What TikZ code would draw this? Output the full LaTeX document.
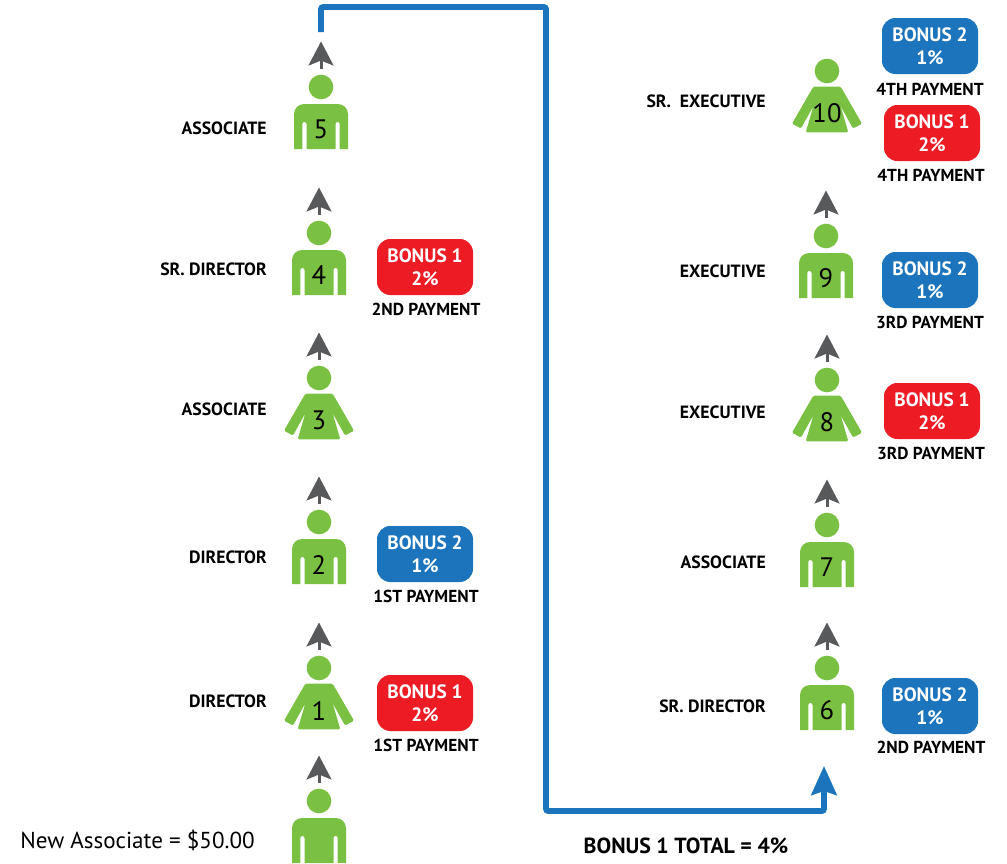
\documentclass[tikz,border=0pt]{standalone}
\usepackage{fontspec}
\setmainfont{PT Sans}
\usetikzlibrary{arrows.meta, positioning}
\definecolor{manGreen}{RGB}{122, 193, 67}
\definecolor{bonusBlue}{RGB}{28, 117, 188}
\definecolor{bonusRed}{RGB}{237, 28, 36}
\definecolor{arrowGray}{RGB}{88, 89, 91}
\tikzset{
  headdot/.style={circle, fill=manGreen, minimum size=18.5pt, inner sep=0pt},
  numlabel/.style={font=\fontsize{20}{20}\selectfont, inner sep=0pt},
  rolelabel/.style={font=\fontsize{13.3}{15}\selectfont\bfseries, anchor=east, inner sep=0pt},
  paylabel/.style={font=\fontsize{13}{15}\selectfont\bfseries, inner sep=0pt},
  bonusbox/.style={rounded corners=10pt, minimum width=72pt, minimum height=42pt, inner sep=0pt, align=center, text=white, font=\fontsize{14.5}{17}\selectfont\bfseries},
  bonusone/.style={bonusbox, fill=bonusRed},
  bonustwo/.style={bonusbox, fill=bonusBlue},
  grayarrow/.style={-{Stealth[length=18pt, width=18.75pt, inset=3.75pt]}, line width=2.25pt, arrowGray, shorten <=2pt},
  bluepath/.style={-{Stealth[length=21.75pt, width=19pt, inset=3pt]}, line width=4.2pt, bonusBlue, rounded corners=1.5pt},
  pics/manfig/.style={code={
    \fill[manGreen] (-27,62) -- (-27,27) arc[start angle=180, end angle=270, radius=10] -- (17,17) arc[start angle=270, end angle=360, radius=10] -- (27,62)
      -- (18.7,62) -- (18.7,37) arc[start angle=0, end angle=-180, radius=2.1] -- (14.5,62)
      -- (-14.5,62) -- (-14.5,37) arc[start angle=0, end angle=-180, radius=2.1] -- (-18.7,62) -- cycle;
    \node[headdot] (head) at (0,0) {};
    \node[numlabel] (num) at (0,42.5) {#1};
    \coordinate (tip) at (0,-45.5);
  }},
  pics/womanfig/.style={code={
    \fill[manGreen, rounded corners=1pt] (-13.7,15.7) -- (-35,52.7) -- (-26,57.5) -- (-13.7,35.3) -- (-21.3,61.3) -- (21.3,61.3) -- (13.7,35.3) -- (26,57.5) -- (35,52.7) -- (13.7,15.7) -- cycle;
    \node[headdot] (head) at (0,0) {};
    \node[numlabel] (num) at (0,42.5) {#1};
    \coordinate (tip) at (0,-45.5);
  }},
}

\begin{document}
\begin{tikzpicture}[x=0.75pt, y=-0.75pt]
  \useasboundingbox (0,0) rectangle (1007,864);

  % Left column
  \pic (pnew) at (319,801) {manfig={}};
  \pic (p1) at (319,668) {womanfig=1};
  \pic (p2) at (319,522) {manfig=2};
  \pic (p3) at (319,378) {womanfig=3};
  \pic (p4) at (319,233) {manfig=4};
  \pic (p5) at (321,87) {manfig=5};

  \draw[grayarrow] (pnewhead) ++(0,-15) -- (pnewtip);
  \draw[grayarrow] (p1head) ++(0,-15) -- (p1tip);
  \draw[grayarrow] (p2head) ++(0,-15) -- (p2tip);
  \draw[grayarrow] (p3head) ++(0,-15) -- (p3tip);
  \draw[grayarrow] (p4head) ++(0,-15) -- (p4tip);
  \draw[grayarrow] (p5head) ++(0,-15) -- (p5tip);

  % Right column
  \pic (p6) at (827,668) {manfig=6};
  \pic (p7) at (827,525) {manfig=7};
  \pic (p8) at (827,380) {womanfig=8};
  \pic (p9) at (826,236) {manfig=9};
  \pic (p10) at (827,71) {womanfig=10};

  \draw[grayarrow] (p6head) ++(0,-15) -- (p6tip);
  \draw[grayarrow] (p7head) ++(0,-15) -- (p7tip);
  \draw[grayarrow] (p8head) ++(0,-15) -- (p8tip);
  \draw[grayarrow] (p9head) ++(0,-15) -- (p9tip);

  % Role labels
  \node[rolelabel] (role5) at (267,128) {ASSOCIATE};
  \node[rolelabel] (role4) at (267,269) {SR. DIRECTOR};
  \node[rolelabel] (role3) at (267,409) {ASSOCIATE};
  \node[rolelabel] (role2) at (267,557) {DIRECTOR};
  \node[rolelabel] (role1) at (267,701) {DIRECTOR};
  \node[rolelabel] (role10) at (766,101) {SR.\ \ EXECUTIVE};
  \node[rolelabel] (role9) at (766,271) {EXECUTIVE};
  \node[rolelabel] (role8) at (766,412) {EXECUTIVE};
  \node[rolelabel] (role7) at (766,562) {ASSOCIATE};
  \node[rolelabel] (role6) at (766,706) {SR. DIRECTOR};

  % Bonus boxes, left
  \node[bonusone] (bonusA) at (425,267) {BONUS 1\\2\%};
  \node[paylabel] (payA) at (426,309) {2ND PAYMENT};
  \node[bonustwo] (bonusB) at (425,554) {BONUS 2\\1\%};
  \node[paylabel] (payB) at (426,596) {1ST PAYMENT};
  \node[bonusone] (bonusC) at (425,703) {BONUS 1\\2\%};
  \node[paylabel] (payC) at (426,745) {1ST PAYMENT};

  % Bonus boxes, right
  \node[bonustwo] (bonusD) at (930,46) {BONUS 2\\1\%};
  \node[paylabel] (payD) at (930,89) {4TH PAYMENT};
  \node[bonusone] (bonusE) at (932,133) {BONUS 1\\2\%};
  \node[paylabel] (payE) at (931,175) {4TH PAYMENT};
  \node[bonustwo] (bonusF) at (930,280) {BONUS 2\\1\%};
  \node[paylabel] (payF) at (930,322) {3RD PAYMENT};
  \node[bonusone] (bonusG) at (932,411) {BONUS 1\\2\%};
  \node[paylabel] (payG) at (931,453) {3RD PAYMENT};
  \node[bonustwo] (bonusH) at (930,706) {BONUS 2\\1\%};
  \node[paylabel] (payH) at (931,747) {2ND PAYMENT};

  % Blue bonus line
  \coordinate (bluestart) at (321,32);
  \coordinate (blueend) at (824,766);
  \draw[bluepath] (bluestart) |- (546,7) -- (546,811) -| (blueend);

  \node[anchor=west, inner sep=0pt, font=\fontsize{17.3}{19}\selectfont] (newlabel) at (20,840) {New Associate = \$50.00};
  \node[inner sep=0pt, font=\fontsize{16.4}{18}\selectfont\bfseries] (totallabel) at (686,846) {BONUS 1 TOTAL = 4\%};
\end{tikzpicture}
\end{document}
